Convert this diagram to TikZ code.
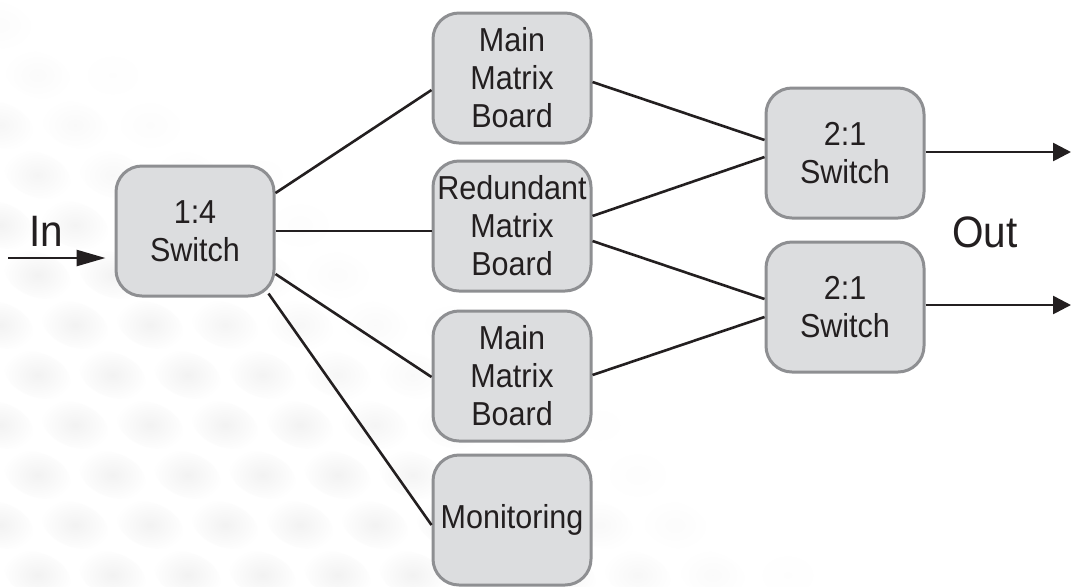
\documentclass[tikz,border=0pt]{standalone}
\usepackage{fontspec}
\setmainfont[FakeStretch=0.92]{Liberation Sans}
\usetikzlibrary{arrows.meta,calc}
\definecolor{ink}{HTML}{231F20}
\definecolor{boxfill}{HTML}{DCDDDF}
\definecolor{boxline}{HTML}{8E8F92}
\begin{document}
\begin{tikzpicture}[x=0.5pt,y=-0.5pt,
  blk/.style={draw=boxline, line width=1.5pt, fill=boxfill, rounded corners=13pt,
    minimum width=79pt, minimum height=65pt, inner sep=0pt, align=center,
    text=ink, font=\fontsize{16.6}{19}\selectfont},
  wire/.style={draw=ink, line width=1.3pt},
  lbl/.style={text=ink, font=\fontsize{22}{26}\selectfont, inner sep=0pt}]
\useasboundingbox (0,0) rectangle (1071,586);
\fill[white] (0,0) rectangle (1071,586);
% faint background pattern
\foreach \j in {0,...,12}{
  \foreach \i in {0,...,14}{
    \pgfmathsetmacro\cx{\i*75+mod(\j,2)*37.5}
    \pgfmathsetmacro\cy{25+\j*50}
    \pgfmathsetmacro\w{min(1,max(0,(\cy-0.74*\cx+40)/240))}
    \pgfmathsetmacro\pct{5*\w}
    \ifdim\pct pt>0.3pt
      \shade[inner color=black!\pct, outer color=white, rotate around={-20:(\cx,\cy)}]
        (\cx,\cy) ellipse [x radius=34, y radius=22];
    \fi
  }
}
% nodes
\node[blk] (s14) at (195,231) {1:4\\Switch};
\node[blk] (m1) at (512,78) {Main\\Matrix\\Board};
\node[blk] (rd) at (512,226) {Redundant\\Matrix\\Board};
\node[blk] (m2) at (512,376) {Main\\Matrix\\Board};
\node[blk] (mon) at (512,520) {Monitoring};
\node[blk] (s21a) at (845,153) {2:1\\Switch};
\node[blk] (s21b) at (845,307) {2:1\\Switch};
\node[lbl] (in) at (46,231) {In};
\node[lbl] (out) at (985,232) {Out};
\coordinate (inS) at (8,258);
\coordinate (outA) at (1071,152);
\coordinate (outB) at (1071,305);
% connectors
\draw[wire, -{Triangle[length=14.5pt,width=8pt]}, shorten >=4.5pt] (inS) -- ($(s14.west)+(0,27)$);
\draw[wire] ($(s14.east)+(0,-38)$) -- ($(m1.west)+(0,12)$);
\draw[wire] (s14.east) -- (s14.east -| rd.west);
\draw[wire] ($(s14.east)+(0,43)$) -- ($(m2.west)+(0,1)$);
\draw[wire] ($(s14.south east)+(-7,-4)$) -- ($(mon.west)+(0,5)$);
\draw[wire] ($(m1.east)+(0,4)$) -- ($(s21a.west)+(0,-13)$);
\draw[wire] ($(rd.east)+(0,-10)$) -- ($(s21a.west)+(0,4)$);
\draw[wire] ($(rd.east)+(0,15)$) -- ($(s21b.west)+(0,-8)$);
\draw[wire] ($(m2.east)+(0,-1)$) -- ($(s21b.west)+(0,10)$);
\draw[wire, -{Triangle[length=9pt,width=9pt]}] (s21a.east |- outA) -- (outA);
\draw[wire, -{Triangle[length=9pt,width=9pt]}] (s21b.east |- outB) -- (outB);
\end{tikzpicture}
\end{document}
